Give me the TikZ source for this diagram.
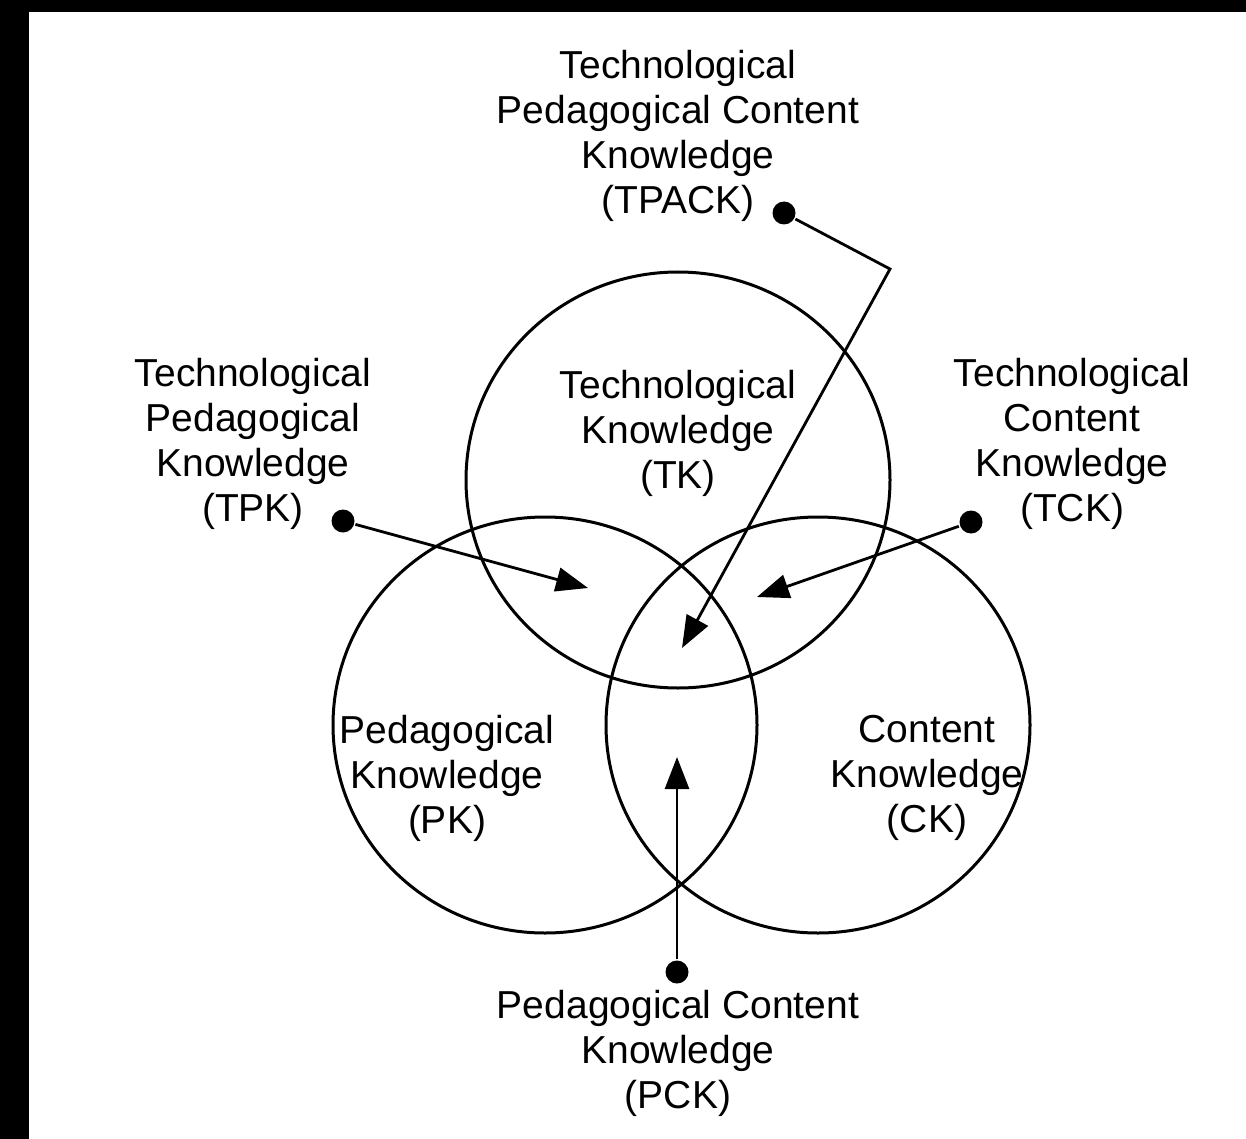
\documentclass[tikz,border=0pt]{standalone}
\usepackage{fontspec}
\setmainfont{Liberation Sans}
\usetikzlibrary{arrows.meta}
\tikzset{kname/.style={align=center,font=\fontsize{39}{45}\selectfont,inner sep=0pt},
  kdot/.style={circle,fill,inner sep=0pt,minimum size=23pt},
  ring/.style={line width=3pt}}

\begin{document}
\begin{tikzpicture}[x=1pt,y=-1pt,>={Triangle[length=32pt,width=24pt]},line width=2.8pt]
  \useasboundingbox (0,0) rectangle (1246,1139);
  \fill (0,0) rectangle (29,1139);
  \fill (29,0) rectangle (1246,12);

  % the three domains
  \draw[ring] (678,480) ellipse [x radius=212pt, y radius=208pt];
  \draw[ring] (545,725) ellipse [x radius=212pt, y radius=208pt];
  \draw[ring] (818,725) ellipse [x radius=212pt, y radius=208pt];

  \node[kname] (TPACK) at (678,136) {Technological\\Pedagogical Content\\Knowledge\\(TPACK)};
  \node[kname] (TPK) at (253,444) {Technological\\Pedagogical\\Knowledge\\(TPK)};
  \node[kname] (TK) at (678,433) {Technological\\Knowledge\\(TK)};
  \node[kname] (TCK) at (1072,444) {Technological\\Content\\Knowledge\\(TCK)};
  \node[kname] (PK) at (447,778) {Pedagogical\\Knowledge\\(PK)};
  \node[kname] (CK) at (927,778) {Content\\Knowledge\\(CK)};
  \node[kname] (PCK) at (678,1053) {Pedagogical Content\\Knowledge\\(PCK)};

  \node[kdot] (tpack) at (784,213) {};
  \node[kdot] (tpk) at (343,521) {};
  \node[kdot] (tck) at (971,522) {};
  \node[kdot] (pck) at (677,972) {};

  \coordinate (bend) at (890,269);
  \coordinate (tpackend) at (682,648);
  \coordinate (tpkend) at (588,588);
  \coordinate (tckend) at (757,597);
  \coordinate (pckend) at (677,757);

  \draw[->] (tpack) -- (bend) -- (tpackend);
  \draw[->] (tpk) -- (tpkend);
  \draw[->] (tck) -- (tckend);
  \draw[->] (pck) -- (pckend);
\end{tikzpicture}
\end{document}
